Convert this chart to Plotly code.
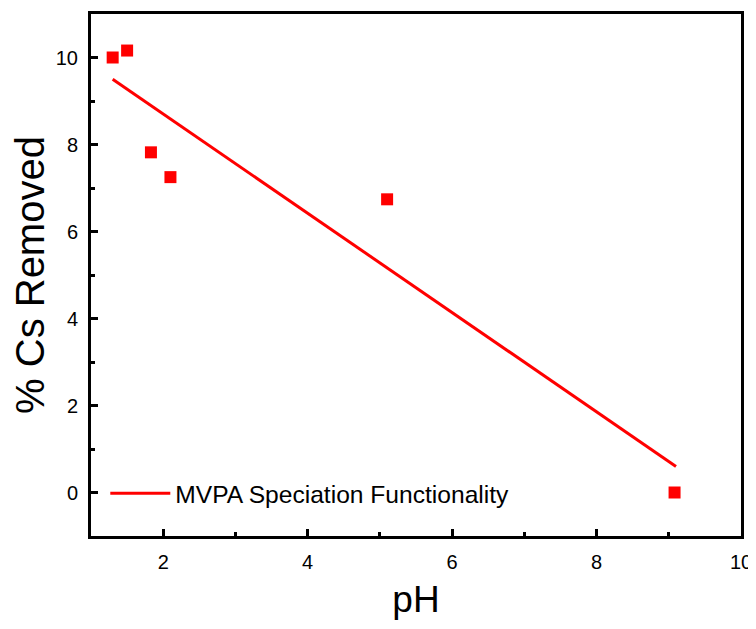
import plotly.graph_objects as go

ph = [1.3, 1.5, 1.83, 2.1, 5.1, 9.08]
cs_removed = [10.0, 10.16, 7.82, 7.25, 6.74, 0.0]
fit_ph = [1.3, 9.1]
fit_cs = [9.5, 0.6]

FONT = "Liberation Sans, Arial"

fig = go.Figure()
fig.add_trace(go.Scatter(x=ph, y=cs_removed, mode="markers",
                         marker=dict(symbol="square", size=12, color="#ff0000"),
                         showlegend=False))
fig.add_trace(go.Scatter(x=fit_ph, y=fit_cs, mode="lines",
                         line=dict(color="#ff0000", width=3),
                         name="MVPA Speciation Functionality"))

axis_common = dict(showline=True, linewidth=3, linecolor="black", mirror=True,
                   ticks="inside", ticklen=7, tickwidth=2.5, tickcolor="black",
                   showgrid=False, zeroline=False, automargin=False,
                   ticklabelstandoff=6,
                   tickfont=dict(family=FONT, size=20, color="black"))

fig.update_xaxes(range=[1, 10], tickvals=[2, 4, 6, 8, 10], title_text="pH",
                 title_font=dict(family=FONT, size=37, color="black"),
                 minor=dict(ticks="inside", ticklen=4, tickwidth=2.5, tickcolor="black",
                            tickvals=[3, 5, 7, 9]),
                 title_standoff=15, **axis_common)
fig.update_yaxes(range=[-1, 11], tickvals=[0, 2, 4, 6, 8, 10], title_text="% Cs Removed",
                 title_font=dict(family=FONT, size=40, color="black"),
                 minor=dict(ticks="inside", ticklen=4, tickwidth=2.5, tickcolor="black",
                            tickvals=[-1, 1, 3, 5, 7, 9]),
                 title_standoff=2, **axis_common)

fig.update_layout(width=748, height=621, plot_bgcolor="white", paper_bgcolor="white",
                  margin=dict(l=83, r=15, t=6, b=93),
                  legend=dict(x=0.022, y=0.082, xanchor="left", yanchor="middle",
                              bgcolor="rgba(0,0,0,0)", itemwidth=60,
                              font=dict(family=FONT, size=24.6, color="black")))

fig.write_html("out.html")
